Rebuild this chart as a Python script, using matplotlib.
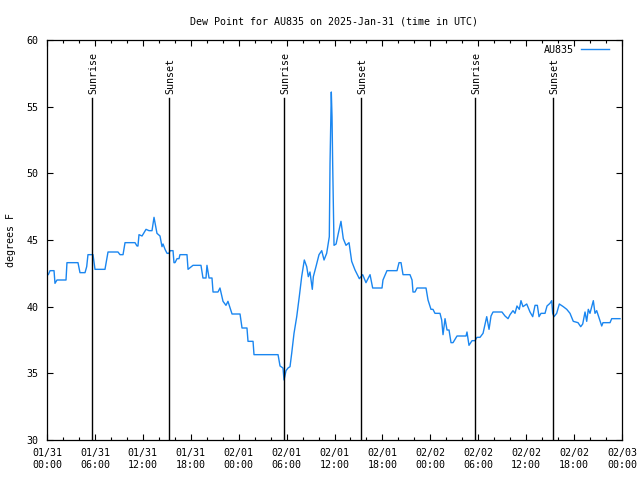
import numpy as np
import matplotlib
matplotlib.use('Agg')
import matplotlib.pyplot as plt
from matplotlib.ticker import MultipleLocator

# hours since 2025-01-31 00:00 UTC
hours = [0.0, 0.16, 0.38, 0.88, 1.0, 1.25, 2.38, 2.5, 3.88, 4.13, 4.76, 4.97, 5.13, 5.76,
         6.01, 7.26, 7.64, 8.89, 9.14, 9.52, 9.77, 11.02, 11.27, 11.39, 11.52, 11.9, 12.4,
         12.77, 13.15, 13.4, 13.77, 14.15, 14.4, 14.53, 14.78, 15.03, 15.28, 15.4, 15.78,
         15.9, 16.03, 16.28, 16.53, 16.65, 17.53, 17.66, 18.28, 19.28, 19.53, 19.91, 20.03,
         20.29, 20.66, 20.79, 21.41, 21.66, 22.04, 22.41, 22.66, 23.17, 24.17, 24.42, 25.04,
         25.17, 25.8, 25.92, 28.93, 29.18, 29.55, 29.68, 29.93, 30.18, 30.43, 30.64, 30.93,
         31.27, 31.59, 31.89, 32.22, 32.52, 32.72, 32.93, 33.22, 33.35, 33.68, 34.06, 34.4,
         34.69, 35.02, 35.35, 35.44, 35.6, 35.69, 35.77, 35.94, 36.2, 36.48, 36.81, 37.1,
         37.44, 37.82, 38.15, 38.57, 39.11, 39.53, 39.94, 40.45, 40.78, 41.95, 42.07, 42.57,
         43.83, 44.08, 44.33, 44.58, 45.45, 45.71, 45.83, 46.08, 46.33, 47.46, 47.71, 48.08,
         48.33, 48.58, 49.21, 49.42, 49.59, 49.84, 50.09, 50.34, 50.59, 50.84, 51.34, 52.47,
         52.59, 52.84, 53.22, 53.59, 53.84, 54.22, 54.6, 55.06, 55.35, 55.6, 55.85, 56.97,
         57.35, 57.73, 57.98, 58.35, 58.6, 58.85, 59.14, 59.35, 59.6, 60.07, 60.48, 60.82,
         61.11, 61.4, 61.61, 61.86, 62.36, 62.61, 62.98, 63.2, 63.32, 63.49, 63.82, 64.15,
         64.65, 65.08, 65.49, 65.9, 66.49, 66.83, 67.08, 67.37, 67.58, 67.78, 67.99, 68.41,
         68.62, 68.83, 69.16, 69.46, 69.62, 70.5, 70.71, 71.75]
dewpoint = [42.4, 42.4, 42.7, 42.7, 41.75, 42.0, 42.0, 43.3, 43.3, 42.55, 42.55, 43.0, 43.9, 43.9,
            42.8, 42.8, 44.1, 44.1, 43.9, 43.9, 44.8, 44.8, 44.55, 44.55, 45.4, 45.3, 45.8,
            45.7, 45.7, 46.7, 45.5, 45.3, 44.5, 44.7, 44.3, 44.0, 44.0, 44.2, 44.2,
            43.3, 43.3, 43.6, 43.6, 43.9, 43.9, 42.8, 43.1, 43.1, 42.15, 42.15, 43.1,
            42.15, 42.15, 41.1, 41.1, 41.4, 40.4, 40.1, 40.4, 39.45, 39.45, 38.4, 38.4,
            37.4, 37.4, 36.4, 36.4, 35.55, 35.4, 34.5, 35.2, 35.4, 35.5, 36.5, 38.0,
            39.25, 40.75, 42.25, 43.5, 43.0, 42.25, 42.6, 41.3, 42.25, 43.0, 43.9, 44.2,
            43.5, 44.0, 45.25, 50.75, 56.1, 54.25, 50.75, 44.6, 44.7, 45.5, 46.4, 45.1,
            44.6, 44.8, 43.4, 42.75, 42.1, 42.4, 41.8, 42.4, 41.4, 41.4, 42.0, 42.7,
            42.7, 43.3, 43.3, 42.4, 42.4, 42.0, 41.1, 41.1, 41.4, 41.4, 40.5, 39.8,
            39.8, 39.5, 39.5, 39.0, 37.9, 39.1, 38.25, 38.25, 37.3, 37.3, 37.8, 37.8,
            38.1, 37.1, 37.45, 37.45, 37.7, 37.7, 38.0, 39.25, 38.3, 39.3, 39.6, 39.6,
            39.3, 39.1, 39.4, 39.7, 39.5, 40.05, 39.8, 40.45, 40.0, 40.2, 39.6, 39.25,
            40.1, 40.1, 39.25, 39.5, 39.5, 40.05, 40.25, 40.45, 39.5, 39.25, 39.5, 40.2,
            40.0, 39.8, 39.5, 38.9, 38.8, 38.5, 38.7, 39.6, 38.9, 39.8, 39.5, 40.45,
            39.5, 39.7, 39.1, 38.55, 38.8, 38.8, 39.1, 39.1]

sun_hours = [5.67, 15.32, 29.7, 39.33, 53.64, 63.38]
sun_labels = ['Sunrise', 'Sunset', 'Sunrise', 'Sunset', 'Sunrise', 'Sunset']

xtick_labels = ['01/31\n00:00', '01/31\n06:00', '01/31\n12:00', '01/31\n18:00',
                '02/01\n00:00', '02/01\n06:00', '02/01\n12:00', '02/01\n18:00',
                '02/02\n00:00', '02/02\n06:00', '02/02\n12:00', '02/02\n18:00',
                '02/03\n00:00']

fs = 7.2
plt.rcParams['font.family'] = 'DejaVu Sans Mono'
plt.rcParams['font.size'] = fs

fig = plt.figure(figsize=(6.4, 4.8), dpi=100)
ax = fig.add_axes([47/640, 40/480, 575/640, 400/480])

ax.plot(hours, dewpoint, color='#1a86f0', lw=1, label='AU835')

for h, lab in zip(sun_hours, sun_labels):
    ax.plot([h, h], [30, 55.65], color='black', lw=1)
    ax.text(h + 0.1, 55.95, lab, rotation=90, ha='center', va='bottom', fontsize=fs)

ax.set_xlim(0, 72)
ax.set_ylim(30, 60)
ax.set_xticks(np.arange(0, 73, 6))
ax.set_xticklabels(xtick_labels)
ax.xaxis.set_minor_locator(MultipleLocator(2))
ax.set_yticks(np.arange(30, 61, 5))
ax.tick_params(which='both', direction='in', top=True, right=True, labelsize=fs, pad=6)
ax.tick_params(which='major', length=4.5, width=0.8)
ax.tick_params(which='minor', length=2.5, width=0.8)
for s in ax.spines.values():
    s.set_linewidth(0.9)

ax.set_ylabel('degrees F', fontsize=fs, labelpad=8)
ax.set_title('Dew Point for AU835 on 2025-Jan-31 (time in UTC)', fontsize=fs, pad=11)
ax.legend(loc='upper right', bbox_to_anchor=(1 - 9/575, 1 - 1/400), frameon=False,
          markerfirst=False, handlelength=2.8, fontsize=fs, borderaxespad=0,
          handletextpad=0.7)

fig.savefig('out.png', dpi=100)
